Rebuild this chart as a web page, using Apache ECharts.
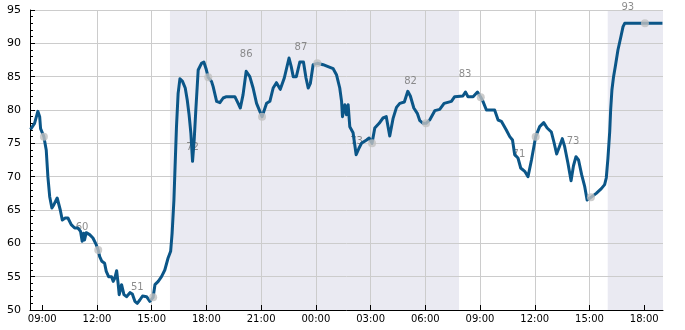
<!DOCTYPE html>
<html><head><meta charset="utf-8">
<script src="https://cdn.jsdelivr.net/npm/echarts@6/dist/echarts.min.js"></script>
<style>html,body{margin:0;padding:0;background:#fff}#c{width:685px;height:330px}</style>
</head><body><div id="c"></div>
<script>
// hours since 00:00 of day 1
const times = [8.36,8.58,8.76,8.86,8.91,9.09,9.22,9.31,9.41,9.53,9.64,9.82,9.92,9.99,10.10,10.26,10.41,10.59,10.78,10.96,11.10,11.19,11.27,11.32,11.41,11.60,11.78,11.96,12.07,12.15,12.27,12.42,12.51,12.64,12.80,12.89,12.98,13.08,13.16,13.22,13.35,13.48,13.62,13.81,13.94,14.08,14.21,14.35,14.50,14.72,14.90,15.08,15.18,15.36,15.54,15.72,15.90,16.04,16.12,16.22,16.27,16.36,16.45,16.55,16.69,16.84,16.95,17.05,17.15,17.24,17.33,17.42,17.55,17.73,17.86,17.99,18.10,18.28,18.37,18.56,18.74,18.92,19.10,19.56,19.74,19.86,20.01,20.18,20.38,20.56,20.75,20.93,21.05,21.30,21.48,21.66,21.84,22.05,22.27,22.53,22.65,22.76,22.93,23.12,23.32,23.46,23.58,23.70,23.85,24.08,24.40,24.67,24.95,25.13,25.31,25.41,25.46,25.59,25.68,25.77,25.86,26.04,26.21,26.28,26.37,26.50,26.78,26.92,27.08,27.23,27.47,27.68,27.86,28.05,28.23,28.42,28.60,28.85,29.04,29.18,29.37,29.56,29.70,29.88,30.04,30.24,30.52,30.79,31.03,31.43,31.61,32.06,32.20,32.34,32.62,32.86,33.04,33.16,33.35,33.80,33.99,34.17,34.44,34.63,34.78,34.90,35.08,35.23,35.45,35.63,35.82,36.05,36.27,36.49,36.68,36.91,37.05,37.20,37.35,37.51,37.64,37.82,37.99,38.12,38.26,38.40,38.57,38.74,38.87,39.08,39.37,39.65,39.83,39.92,40.01,40.11,40.16,40.23,40.32,40.42,40.56,40.73,40.84,40.93,42.04,43.00];
const values = [77.1,78.0,79.8,79.0,77.2,76.0,74.0,70.0,67.0,65.3,65.8,66.8,66.5,65.0,63.5,63.8,63.8,62.8,62.3,62.3,61.8,60.3,61.5,60.5,61.6,61.3,60.8,59.8,59.0,58.0,57.3,57.0,55.8,55.0,55.0,54.3,54.8,55.9,54.0,52.3,53.8,52.3,52.0,52.6,52.4,51.3,51.0,51.5,52.1,52.0,51.3,51.9,53.8,54.3,55.0,56.0,57.8,58.8,61.5,66.5,70.5,77.5,82.5,84.7,84.3,83.3,81.5,79.3,76.5,72.3,75.5,80.0,86.0,87.0,87.2,86.1,84.9,84.3,83.5,81.3,81.1,81.8,82.0,82.0,81.0,80.3,82.3,85.8,85.0,83.3,81.0,79.8,79.0,81.0,81.3,83.3,84.1,83.1,84.8,87.8,86.5,85.0,85.0,87.2,87.2,84.8,83.3,84.0,86.8,87.0,86.8,86.5,86.2,85.3,83.3,81.3,79.0,80.8,79.3,80.8,77.5,76.6,73.3,73.0,74.3,75.0,75.5,75.8,75.0,77.3,78.0,78.8,79.0,76.1,78.7,80.4,81.0,81.2,82.8,82.1,80.3,79.5,78.4,78.0,78.0,78.5,79.9,80.1,81.0,81.3,82.0,82.1,82.7,82.0,82.0,82.7,81.9,81.3,80.0,80.0,78.5,78.3,77.0,76.0,75.5,73.3,72.8,71.3,70.8,70.0,72.5,76.0,77.5,78.1,77.3,76.7,75.2,73.4,74.5,75.7,74.5,72.0,69.4,71.6,73.0,72.5,70.3,68.5,66.5,66.9,67.5,68.2,68.8,69.8,72.7,76.8,80.0,83.0,85.0,86.6,89.0,91.1,92.5,93.0,93.0,93.0];

const markerTimes = [9.09,12.07,15.08,18.10,21.05,24.08,27.08,30.04,33.04,36.05,39.08,42.04];
const markerValues = [76.0,59.0,51.9,84.9,79.0,87.0,75.0,78.0,81.9,76.0,66.9,93.0];

const labelTimes = [11.18,14.21,17.24,20.18,23.18,26.23,29.19,32.18,35.13,38.10,41.10];
const labelValues = [60,51,72,86,87,73,82,83,71,73,93];

const xTickHours = [9,12,15,18,21,24,27,30,33,36,39,42];
const xTickLabels = ['09:00','12:00','15:00','18:00','21:00','00:00','03:00','06:00','09:00','12:00','15:00','18:00'];

const nightStarts = [16, 40];
const nightEnds = [31.85, 43.03];

const xMin = 8.33, xMax = 43.03;

const chart = echarts.init(document.getElementById('c'), null, {renderer:'canvas'});
const font = 'DejaVu Sans';
chart.setOption({
  animation:false,
  backgroundColor:'#ffffff',
  grid:{left:30,right:22,top:10,bottom:20,containLabel:false},
  xAxis:{
    type:'value', min:xMin, max:xMax, splitNumber:12, z:2,
    axisLine:{show:true,onZero:false,lineStyle:{color:'#000',width:1}},
    axisTick:{show:true,inside:true,length:5,customValues:xTickHours,lineStyle:{color:'#000'}},
    axisLabel:{customValues:xTickHours,margin:4,fontFamily:font,fontSize:10,color:'#000',
      formatter:function(v){const i=xTickHours.indexOf(Math.round(v*100)/100);return i>=0?xTickLabels[i]:'';}},
    splitLine:{show:true,showMinLine:false,showMaxLine:false,lineStyle:{color:'#cccccc',width:1}}
  },
  yAxis:{
    type:'value', min:50, max:95, interval:5, z:2,
    axisLine:{show:true,lineStyle:{color:'#000',width:1}},
    axisTick:{show:true,inside:true,length:5,lineStyle:{color:'#000'}},
    minorTick:{show:true,splitNumber:5,length:3,lineStyle:{color:'#000'}},
    axisLabel:{margin:9,fontFamily:font,fontSize:11,color:'#000'},
    splitLine:{show:true,lineStyle:{color:'#cccccc',width:1}}
  },
  series:[
    {type:'line',name:'night',data:[],z:1,silent:true,
      markArea:{silent:true,itemStyle:{color:'#eaeaf2'},
        data:nightStarts.map((s,i)=>[{xAxis:s},{xAxis:nightEnds[i]}])}},
    {type:'scatter',name:'labels',z:3,silent:true,symbolSize:1,itemStyle:{color:'rgba(0,0,0,0)'},
      data:labelTimes.map((t,i)=>[t,labelValues[i]]),
      label:{show:true,position:'top',distance:10,fontFamily:font,fontSize:10,color:'#707070',
        formatter:p=>String(p.value[1])}},
    {type:'line',name:'value',z:5,showSymbol:false,symbol:'none',
      data:times.map((t,i)=>[t,values[i]]),
      lineStyle:{color:'#0b5688',width:3,join:'round'}},
    {type:'scatter',name:'markers',z:6,symbolSize:8,itemStyle:{color:'#c0c0c0'},
      data:markerTimes.map((t,i)=>[t,markerValues[i]])}
  ]
});
</script></body></html>
